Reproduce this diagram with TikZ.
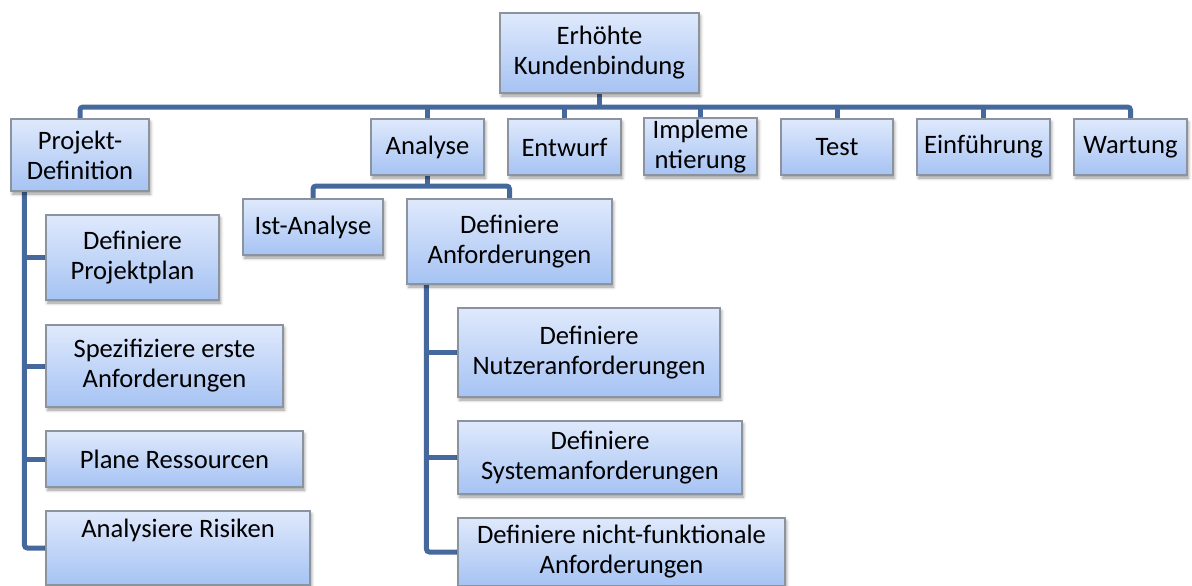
\documentclass[tikz,border=0pt]{standalone}
\usepackage{fontspec}
\setmainfont{Carlito}
\usetikzlibrary{shadows.blur,backgrounds}
\definecolor{boxtop}{HTML}{DFE9FC}
\definecolor{boxbot}{HTML}{A6C3F3}
\definecolor{boxedge}{HTML}{8A939E}
\definecolor{linkblue}{HTML}{45699C}
\tikzset{
  wbs/.style={draw=boxedge, line width=1.2pt, top color=boxtop, bottom color=boxbot,
    inner sep=0pt, align=center, font=\fontsize{26.6}{30}\selectfont,
    blur shadow={shadow xshift=1.5pt, shadow yshift=-3pt, shadow blur radius=3pt, shadow opacity=40}},
  link/.style={draw=linkblue, line width=5pt, rounded corners=3pt},
}
% box from (x1,y1) to (x2,y2) in pixel units, y growing downwards
\newcommand{\wbsbox}[6]{%
  \node[wbs, minimum width={(#4-#2)*1pt}, minimum height={(#5-#3)*1pt}]
    (#1) at ({(#2+#4)/2},{(#3+#5)/2}) {#6};}
\begin{document}
\begin{tikzpicture}[x=1pt, y=-1pt]
\useasboundingbox (0,0) rectangle (1192,586);

\coordinate (bus) at (0,107);
\coordinate (subbus) at (0,186);

% top-level boxes
\wbsbox{top}{500}{13}{699}{93}{Erhöhte\\Kundenbindung}
\wbsbox{pd}{11}{119}{149}{191}{Projekt-\\Definition}
\wbsbox{an}{371}{119}{484}{175}{Analyse}
\wbsbox{ew}{508}{119}{621}{175}{Entwurf}
\wbsbox{im}{644}{118}{757}{175}{Impleme\\ntierung}
\wbsbox{te}{781}{119}{893}{175}{Test}
\wbsbox{ef}{917}{119}{1050}{175}{Einführung}
\wbsbox{wa}{1074}{119}{1187}{175}{Wartung}

% Projekt-Definition children
\wbsbox{pp}{46}{215}{219}{300}{Definiere\\Projektplan}
\wbsbox{sa}{46}{325}{283}{407}{Spezifiziere erste\\Anforderungen}
\wbsbox{pr}{46}{431}{303}{487}{Plane Ressourcen}
\wbsbox{ar}{46}{511}{310}{585}{Analysiere Risiken\\\strut}

% Analyse children
\wbsbox{ia}{243}{199}{383}{255}{Ist-Analyse}
\wbsbox{da}{407}{199}{612}{284}{Definiere\\Anforderungen}

% Definiere Anforderungen children
\wbsbox{nu}{458}{308}{720}{397}{Definiere\\Nutzeranforderungen}
\wbsbox{sy}{458}{421}{742}{494}{Definiere\\Systemanforderungen}
\wbsbox{nf}{458}{518}{785}{586}{Definiere nicht-funktionale\\Anforderungen}

\begin{pgfonlayer}{background}
% main bus
\draw[link] (top.south) -- (top.south |- bus);
\draw[link] (pd.north) -- (pd.north |- bus) -- (wa.north |- bus) -- (wa.north);
\foreach \n in {an,ew,im,te,ef}
  \draw[link] (\n.north) -- (\n.north |- bus);

% Analyse sub-bus
\draw[link] (an.south) -- (an.south |- subbus);
\draw[link] (ia.north) -- (ia.north |- subbus) -- (da.north |- subbus) -- (da.north);

% Projekt-Definition spine
\coordinate (pdspine) at ([xshift=14pt]pd.south west);
\draw[link] (pdspine) -- (pdspine |- ar.west) -- (ar.west);
\foreach \n in {pp,sa,pr}
  \draw[link] (pdspine |- \n.west) -- (\n.west);

% Definiere Anforderungen spine
\coordinate (daspine) at ([xshift=20pt]da.south west);
\draw[link] (daspine) -- (daspine |- nf.west) -- (nf.west);
\foreach \n in {nu,sy}
  \draw[link] (daspine |- \n.west) -- (\n.west);
\end{pgfonlayer}
\end{tikzpicture}
\end{document}
